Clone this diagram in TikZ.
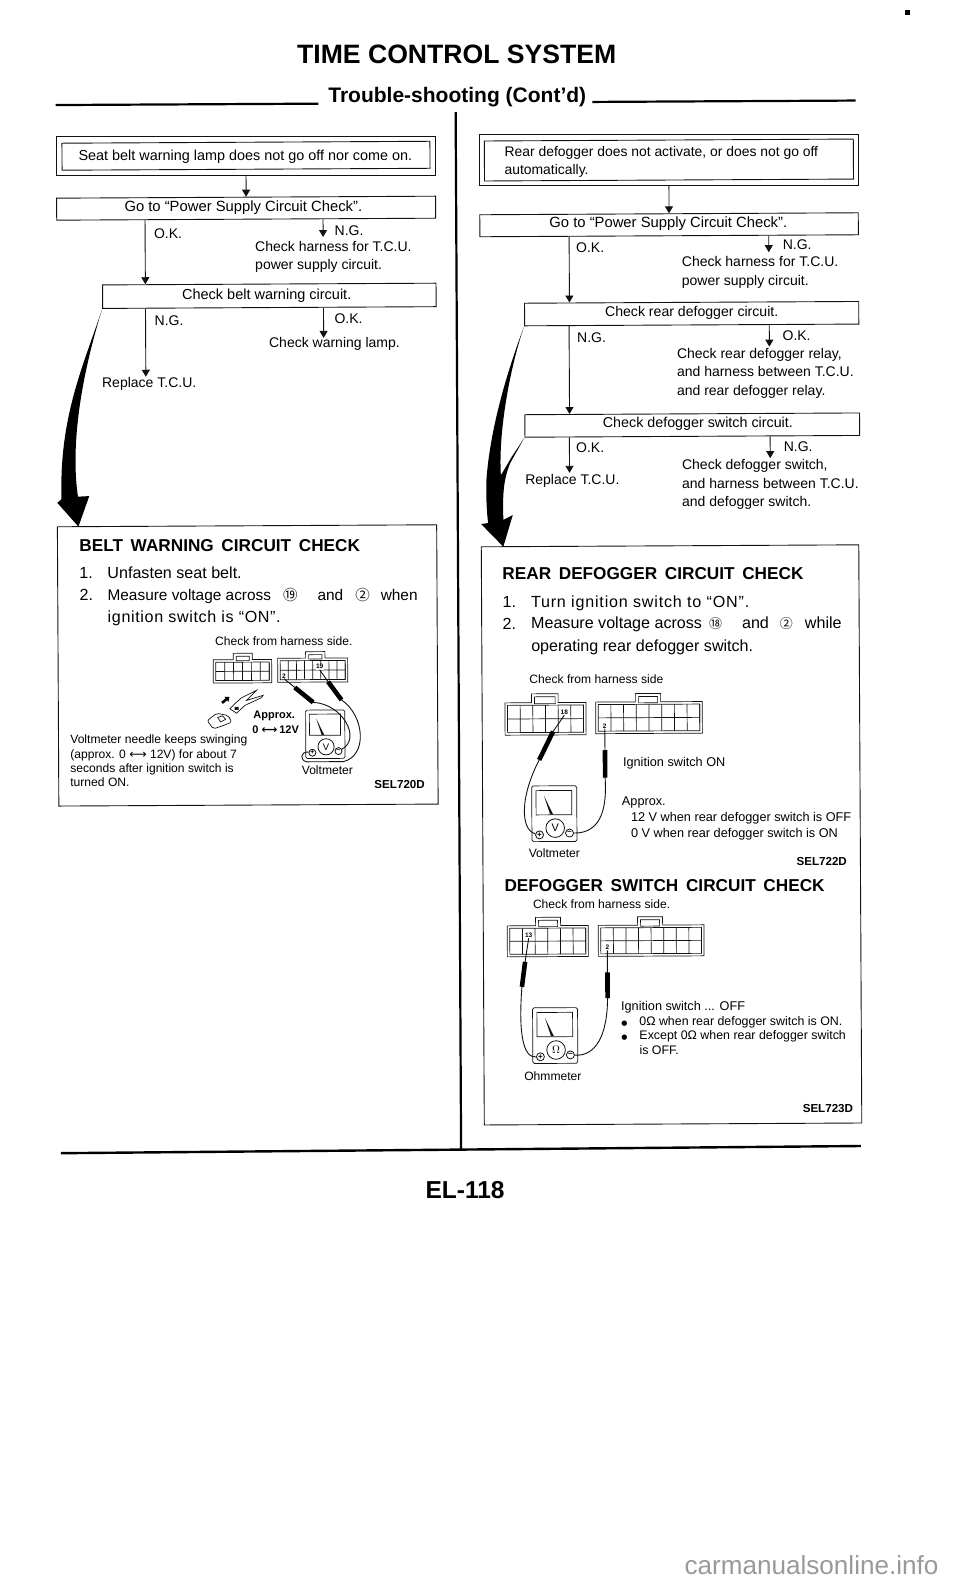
\documentclass[tikz,border=0pt]{standalone}
\usepackage{fontspec}
\setsansfont{Liberation Sans}
\newfontfamily\dejavu{DejaVu Sans}
\newfontfamily\circfont{Noto Sans CJK JP}
\usetikzlibrary{arrows.meta,positioning,fit,calc}
\definecolor{inkblack}{HTML}{111111}
\definecolor{markgray}{HTML}{999999}
% x, y, width, height, cells, tab offset, tab width
\newcommand{\harness}[7]{%
  \begin{scope}[shift={(#1,#2)}]
    \pgfmathsetmacro{\cellw}{(#3-5)/#5}
    \pgfmathsetmacro{\tabh}{#7/3}
    \draw[wire] (0,0) -- (#6,0) -- (#6,-\tabh) -- ({#6+#7},-\tabh) -- ({#6+#7},0) -- (#3,0) -- (#3,#4) -- (0,#4) -- cycle;
    \draw[wire] ({#6+3},{-\tabh+3}) rectangle ({#6+#7-3},1);
    \draw[wire] (2.5,2.5) rectangle ({#3-2.5},{#4-2.5});
    \draw[wire] (2.5,{#4/2}) -- ({#3-2.5},{#4/2});
    \foreach \k [evaluate=\k as \cx using 2.5+\k*\cellw] in {1,...,#5}
      \draw[wire] (\cx,2.5) -- (\cx,{#4-2.5});
  \end{scope}}
% x, y, scale, name, symbol
\newcommand{\meter}[5]{%
  \begin{scope}[shift={(#1,#2)}, scale=#3]
    \draw[wire, rounded corners=1.5pt] (0,0) rectangle (45,55.7);
    \draw[wire] (4.3,4.7) rectangle (40,29);
    \fill[inkblack] (12.3,10) -- (18.3,28.5) -- (21.2,28.5) -- cycle;
    \node[dialface] (#4dial) at (23.3,42.3) {#5};
    \node[terminal] (#4plus) at (7.6,49) {+};
    \node[terminal] (#4minus) at (37.6,47.3) {\textminus};
  \end{scope}}

\begin{document}
\begin{tikzpicture}[
    x=1pt, y=-1pt,
    stepbox/.style={draw=inkblack, line width=0.9pt, inner sep=0pt, transform shape},
    boxtext/.style={inner sep=0pt, text height=11.5pt, text depth=2.5pt},
    flow/.style={-{Triangle[length=7pt,width=8pt]}, line width=0.9pt, draw=inkblack},
    note/.style={font=\sffamily\fontsize{14}{18.6}\selectfont, align=left, inner ysep=1pt, inner xsep=0pt},
    oneline/.style={note, text height=10pt, text depth=2pt},
    panel/.style={draw=inkblack, line width=0.9pt, transform shape},
    head/.style={font=\sffamily\bfseries\fontsize{17.2}{20}\selectfont, anchor=west, inner sep=0pt},
    body/.style={font=\sffamily\fontsize{16.1}{20}\selectfont, anchor=west, inner sep=0pt, text height=12pt, text depth=3.5pt},
    small/.style={font=\sffamily\fontsize{12.1}{14.3}\selectfont, align=left, inner sep=0pt},
    smallline/.style={small, text height=9.5pt, text depth=2.5pt},
    wide/.style={font=\sffamily\fontsize{12.7}{14.3}\selectfont, anchor=west, inner sep=0pt, text height=9.5pt, text depth=2.5pt},
    code/.style={font=\sffamily\bfseries\fontsize{11.6}{14}\selectfont, anchor=east, inner sep=0pt},
    pinlabel/.style={font=\sffamily\bfseries\fontsize{6.5}{7}\selectfont, inner sep=0.5pt, fill=white},
    wire/.style={draw=inkblack, line width=0.7pt},
    probe/.style={draw=inkblack, line width=0.9pt},
    probetip/.style={draw=black, line width=4.6pt},
    dialface/.style={draw=inkblack, line width=0.8pt, circle, minimum size=18.6pt, inner sep=0pt, font=\sffamily\fontsize{11}{12}\selectfont, transform shape},
    terminal/.style={draw=inkblack, line width=0.8pt, circle, minimum size=8pt, inner sep=0pt, font=\sffamily\bfseries\fontsize{8}{8}\selectfont, transform shape}
]
\useasboundingbox (0,0) rectangle (960,1581);
\fill[white] (0,0) rectangle (960,1581);
\fill[black] (904.5,10.5) rectangle (909.5,15.5);
\node[font=\sffamily\fontsize{26.1}{30}\selectfont, text=markgray] (site) at (811.5,1565) {carmanualsonline.info};

\begin{scope}[rotate around={0.3:(480,790)}]
% page head
\node[font=\sffamily\bfseries\fontsize{26.6}{30}\selectfont, inner sep=0pt] (title) at (460.6,53.9) {TIME CONTROL SYSTEM};
\node[font=\sffamily\bfseries\fontsize{21}{24}\selectfont, inner sep=0pt] (subtitle) at (460.9,96.9) {Trouble-shooting (Cont'd)};
\draw[line width=2.2pt] (59.3,102.8) -- (321.9,102.8);
\draw[line width=2.2pt] (595.9,102.5) -- (859.3,102.5);
\draw[line width=2.2pt] (459.2,112) -- (459.2,1149);
\draw[line width=2.4pt] (59,1151) -- (859,1148);
\node[font=\sffamily\bfseries\fontsize{24.5}{28}\selectfont, inner sep=0pt] (pageno) at (463,1189.5) {EL-118};

% left column
\node[stepbox, minimum width=368pt, minimum height=27pt] (seat) at (249.3,154.5) {};
\node[panel, fit=(seat), inner sep=5.5pt] (seatout) {};
\node[stepbox, below=21.1pt of seatout, minimum width=379pt, minimum height=22pt] (goL) {};
\node[stepbox, below left=64.1pt and 0pt of goL.south east, minimum width=333.5pt, minimum height=23.5pt] (ckbelt) {};
\node[boxtext, font=\sffamily\fontsize{14.4}{18}\selectfont] (seattext) at (248.7,155) {Seat belt warning lamp does not go off nor come on.};
\node[boxtext, font=\sffamily\fontsize{14.8}{18}\selectfont] (goLtext) at (246.4,206.1) {Go to ``Power Supply Circuit Check''.};
\node[boxtext, font=\sffamily\fontsize{14.5}{18}\selectfont] (ckbelttext) at (269.3,293.8) {Check belt warning circuit.};
\node[note] (goLok) at (171,232) {O.K.};
\node[note] (goLng) at (352,229.5) {N.G.};
\node[note, anchor=west] (harnessL) at (257.8,255.8) {Check harness for T.C.U.\\power supply circuit.};
\node[note] (beltng) at (171.5,319.5) {N.G.};
\node[note] (beltok) at (351,318.2) {O.K.};
\node[oneline] (lamp) at (336.8,342.3) {Check warning lamp.};
\node[oneline] (tcuL) at (151.3,382.2) {Replace T.C.U.};
\draw[flow] (seatout) -- (goL);
\draw[flow] (148,0 |- goL.south) -- (148,0 |- ckbelt.north);
\draw[flow, shorten >=3pt] (326,0 |- goL.south) -- (326,0 |- harnessL.north);
\draw[flow] (148,0 |- ckbelt.south) -- (148,0 |- tcuL.north);
\draw[flow, shorten >=-2pt] (326,0 |- ckbelt.south) -- (326,0 |- lamp.north);

\node[panel, minimum width=379.3pt, minimum height=279.3pt] (beltpanel) at (248.4,664.2) {};
\fill[black] (ckbelt.south west) .. controls (85,365) and (61,415) .. (63,497) -- (58.8,500.6) -- (79.8,524.5) -- (90.8,494) -- (79.5,494.6) .. controls (73,450) and (80,385) .. (ckbelt.south west);
\node[head] (belthead) at (80.5,543.6) {BELT\ \,WARNING\ \,CIRCUIT\ \,CHECK};
\node[body] (beltone) at (80.4,572.3) {1.};
\node[body] (beltfasten) at (108.4,572.3) {Unfasten seat belt.};
\node[body] (belttwo) at (80.4,593.8) {2.};
\node[body, font=\sffamily\fontsize{15.4}{20}\selectfont] (beltacross) at (108.4,593.8) {Measure voltage across\hspace{12pt}{\circfont\fontsize{14.5}{15}\selectfont ⑲}\hspace{20pt}and\hspace{12pt}{\circfont\fontsize{14.5}{15}\selectfont ②}\hspace{11pt}when};
\node[body] (beltign) at (108.4,615.8) {\addfontfeature{LetterSpace=4}ignition switch is “ON”.};
\node[smallline] (beltside) at (284.6,640.9) {Check from harness side.};
\harness{213.9}{658.4}{58.4}{23.3}{6}{20}{19}
\harness{278.3}{657.2}{70}{24}{8}{28}{19.3}
\meter{306}{709.2}{0.87}{volta}{V}
\coordinate (tipXIXa) at (328.6,680.9);
\coordinate (tipXIXb) at (342,699.2);
\coordinate (tipIIa) at (295.3,686.5);
\coordinate (tipIIb) at (313.6,701.5);
\node[pinlabel] (pinXIX) at (320.3,665.9) {19};
\node[pinlabel] (pinIIa) at (284.6,674.7) {2};
\draw[probe] (pinXIX.south) -- (tipXIXa) -- (tipXIXb) .. controls (365,715) and (368,755) .. (343.6,760.9) -- (307,760.9) .. controls (300,760) and (300,750) .. (voltaplus);
\draw[probe] (pinIIa.south) -- (tipIIa) -- (tipIIb) .. controls (343,703) and (362,738) .. (voltaminus);
\draw[probetip] (tipXIXa) -- (tipXIXb);
\draw[probetip] (tipIIa) -- (tipIIb);
% ignition key
\draw[-{Triangle[length=4pt,width=6pt]}, line width=2.6pt] (222.5,701.5) -- (230,695.5);
\draw[wire, fill=white] (230.3,707.5) -- (237,711.9) -- (245.3,704.2) -- (262,696.5) -- (263.6,694.2) -- (247,699.2) -- (257,689.2) -- (242,696.5) -- (237,700.9) -- cycle;
\fill[inkblack] (235,705.5) rectangle (239,708.5);
\draw[wire, rounded corners=2pt] (207.6,719.2) -- (217,711.9) -- (228.6,714.2) -- (232,720.9) -- (223.6,724.2) -- (213.6,727.5) -- cycle;
\draw[wire] (218,716) -- (223,714.5) -- (226,718) -- (221,720.5) -- cycle;
\node[font=\sffamily\bfseries\fontsize{11}{12}\selectfont, anchor=west, inner sep=0pt] (approxL) at (253.6,715) {Approx.};
\node[font=\sffamily\bfseries\fontsize{11}{12}\selectfont, anchor=west, inner sep=0pt] (rangeL) at (252.6,728.3) {0 {\dejavu ⟷}\,12V};
\node[small, anchor=west] (needle) at (70.3,758.8) {Voltmeter needle keeps swinging\\(approx. 0 {\dejavu ⟷} 12V) for about 7\\seconds after ignition switch is\\turned ON.};
\node[small] (voltmeterL) at (327.5,769.2) {Voltmeter};
\node[code] (codeA) at (425,784.7) {SEL720D};

% right column
\node[stepbox, minimum width=369pt, minimum height=40pt] (rear) at (672.2,161) {};
\node[panel, fit=(rear), inner sep=4.7pt] (rearout) {};
\node[stepbox, below=27.7pt of rearout, minimum width=378.5pt, minimum height=22pt] (goR) {};
\node[stepbox, below left=65.8pt and 0pt of goR.south east, minimum width=334.2pt, minimum height=22.6pt] (ckrear) {};
\node[stepbox, below=88pt of ckrear, minimum width=334.7pt, minimum height=22.5pt] (ckswitch) {};
\node[align=left, anchor=west, inner sep=0pt, font=\sffamily\fontsize{13.9}{18.8}\selectfont] (reartext) at (507.7,162) {Rear defogger does not activate, or does not go off\\automatically.};
\node[boxtext, font=\sffamily\fontsize{14.8}{18}\selectfont] (goRtext) at (671.3,224.3) {Go to ``Power Supply Circuit Check''.};
\node[boxtext, font=\sffamily\fontsize{14.1}{18}\selectfont] (ckreartext) at (694.2,313.4) {Check rear defogger circuit.};
\node[boxtext, font=\sffamily\fontsize{14.3}{18}\selectfont] (ckswitchtext) at (699.8,424.5) {Check defogger switch circuit.};
\node[note] (goRok) at (593,247.9) {O.K.};
\node[note] (goRng) at (800,246.3) {N.G.};
\node[note, anchor=west] (harnessR) at (684.4,273.3) {Check harness for T.C.U.\\power supply circuit.};
\node[note] (rearng) at (594,337.9) {N.G.};
\node[note] (rearok) at (799,337) {O.K.};
\node[note, anchor=west] (relay) at (679,374) {Check rear defogger relay,\\and harness between T.C.U.\\and rear defogger relay.};
\node[note] (switchok) at (592,448.3) {O.K.};
\node[note] (switchng) at (800,448.3) {N.G.};
\node[oneline] (tcuR) at (574,480.5) {Replace T.C.U.};
\node[note, anchor=west] (switchwire) at (683.5,485.5) {Check defogger switch,\\and harness between T.C.U.\\and defogger switch.};
\draw[flow] (rearout) -- (goR);
\draw[flow] (572,0 |- goR.south) -- (572,0 |- ckrear.north);
\draw[flow, shorten >=3pt] (771.6,0 |- goR.south) -- (771.6,0 |- harnessR.north);
\draw[flow] (571.5,0 |- ckrear.south) -- (571.5,0 |- ckswitch.north);
\draw[flow] (771.7,0 |- ckrear.south) -- (771.7,0 |- relay.north);
\draw[flow] (571.2,0 |- ckswitch.south) -- (571.2,0 |- tcuR.north);
\draw[flow] (772,0 |- ckswitch.south) -- (772,0 |- switchwire.north);

\node[panel, minimum width=377.5pt, minimum height=578.2pt] (rearpanel) at (671.3,835.9) {};
\fill[black] (ckrear.south west) .. controls (508,375) and (492,430) .. (488,480) .. controls (487.5,495) and (488,510) .. (489.5,523.1) -- (482.5,524) -- (504.6,546.8) -- (514.2,515.2) -- (504.8,520) .. controls (504,495) and (505,480) .. (511.8,463.4) -- (ckswitch.south west) -- (513.5,457) -- (502.5,475.5) .. controls (500,430) and (513,365) .. (ckrear.south west);
\node[head] (rearhead) at (503.4,573.2) {REAR\ \,DEFOGGER\ \,CIRCUIT\ \,CHECK};
\node[body] (rearone) at (503.4,603.1) {1.};
\node[body] (rearturn) at (531.8,603.1) {\addfontfeature{LetterSpace=5}Turn ignition switch to “ON”.};
\node[body] (reartwo) at (503.4,625) {2.};
\node[body] (rearacross) at (531.8,625) {Measure voltage across\hspace{7pt}{\circfont\fontsize{13}{14}\selectfont ⑱}\hspace{20pt}and\hspace{11pt}{\circfont\fontsize{13}{14}\selectfont ②}\hspace{12pt}while};
\node[body] (rearoper) at (531.8,647.6) {operating rear defogger switch.};
\node[smallline, anchor=west] (rearside) at (529.8,680.6) {Check from harness side};
\harness{505.4}{703}{81}{32.3}{6}{26.6}{26.6}
\harness{596.1}{702.7}{106.6}{31.6}{8}{40}{25}
\meter{531.7}{786.2}{1}{voltb}{V}
\coordinate (tipXVIIIa) at (553.4,731.9);
\coordinate (tipXVIIIb) at (539.4,760.2);
\coordinate (tipIIc) at (605.2,750.9);
\coordinate (tipIId) at (605.2,778.2);
\node[pinlabel] (pinXVIII) at (564.7,712.7) {18};
\node[pinlabel] (pinIIb) at (605.1,726.4) {2};
\draw[probe] (pinXVIII.south) -- (tipXVIIIa) -- (tipXVIIIb) .. controls (520,796.7) and (520,830) .. (voltbplus);
\draw[probe] (pinIIb.south) -- (tipIIc) -- (tipIId) .. controls (606.7,805) and (603,834) .. (voltbminus);
\draw[probetip] (tipXVIIIa) -- (tipXVIIIb);
\draw[probetip] (tipIIc) -- (tipIId);
\node[wide] (ignon) at (623,763.7) {Ignition switch ON};
\node[wide] (approxR) at (621.7,803.2) {Approx.};
\node[wide] (twelve) at (630.7,818.4) {12 V when rear defogger switch is OFF};
\node[wide] (zero) at (630.7,834.7) {0 V when rear defogger switch is ON};
\node[small] (voltmeterR) at (554,853.8) {Voltmeter};
\node[code] (codeB) at (846.7,863.4) {SEL722D};

\node[head] (switchhead) at (503.8,886) {DEFOGGER\ \,SWITCH\ \,CIRCUIT\ \,CHECK};
\node[smallline, anchor=west] (switchside) at (532.2,905.5) {Check from harness side.};
\harness{506.5}{926}{81}{31}{6}{28.4}{25}
\harness{597.5}{926}{105.7}{31}{8}{39.4}{25}
\meter{531.4}{1008.1}{1}{ohm}{$\Omega$}
\coordinate (tipXIIIa) at (524.2,962.1);
\coordinate (tipXIIIb) at (520.9,987.1);
\coordinate (tipIIe) at (606.5,973.1);
\coordinate (tipIIf) at (606.5,998.7);
\node[pinlabel] (pinXIII) at (527.9,935.5) {13};
\node[pinlabel] (pinIIc) at (606.5,948) {2};
\draw[probe] (pinXIII.south) -- (tipXIIIa) -- (tipXIIIb) .. controls (517,1035) and (522,1058) .. (ohmplus);
\draw[probe] (pinIIc.south) -- (tipIIe) -- (tipIIf) .. controls (606,1037) and (594,1057) .. (ohmminus);
\draw[probetip] (tipXIIIa) -- (tipXIIIb);
\draw[probetip] (tipIIe) -- (tipIIf);
\node[wide] (ignoff) at (619.8,1008) {Ignition switch ... OFF};
\node[wide] (bulletA) at (620,1022.7) {\dejavu\fontsize{7}{8}\selectfont ●};
\node[wide, font=\sffamily\fontsize{12.4}{14}\selectfont] (zeroohm) at (638,1022.7) {0Ω when rear defogger switch is ON.};
\node[wide] (bulletB) at (620,1036.7) {\dejavu\fontsize{7}{8}\selectfont ●};
\node[wide, font=\sffamily\fontsize{12.4}{14}\selectfont] (exceptohm) at (638,1036.7) {Except 0Ω when rear defogger switch};
\node[wide, font=\sffamily\fontsize{12.4}{14}\selectfont] (isoff) at (638,1052) {is OFF.};
\node[small] (ohmlabel) at (551.4,1076.2) {Ohmmeter};
\node[code] (codeC) at (851.6,1110.2) {SEL723D};
\end{scope}
\end{tikzpicture}
\end{document}
